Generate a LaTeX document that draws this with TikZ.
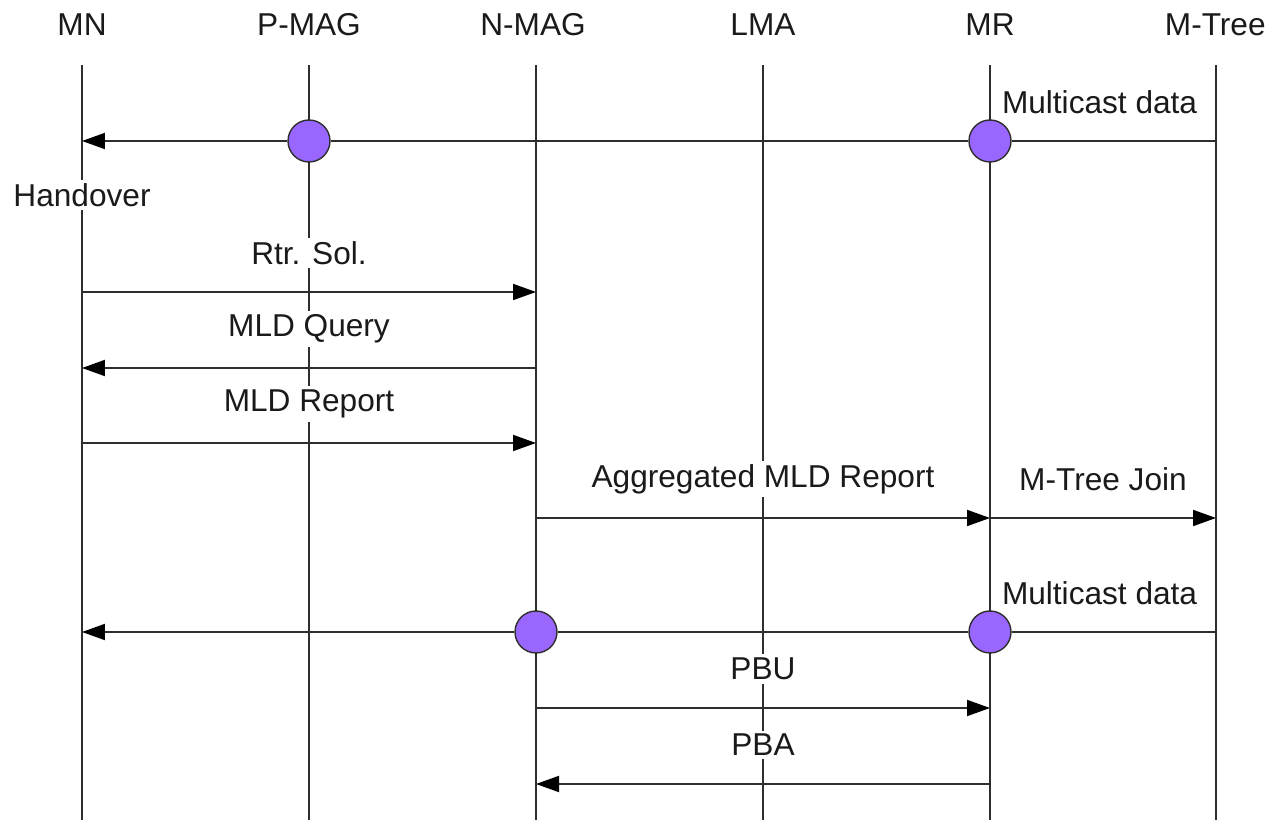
\documentclass[tikz,border=0pt]{standalone}
\usepackage{fontspec}
\setmainfont{Liberation Sans}
\usetikzlibrary{arrows.meta}
\usepackage{xcolor}
\definecolor{dotfill}{HTML}{9966FF}
\definecolor{linegray}{HTML}{2E2E2E}
\definecolor{textgray}{HTML}{1A1A1A}

\tikzset{
	life/.style={draw=linegray, line width=1.1pt},
	msg/.style={draw=linegray, line width=1.1pt, -{Triangle[length=0.46cm, width=0.32cm, black]}},
	dot/.style={draw=linegray, circle, fill=dotfill, minimum size=0.84cm, inner sep=0pt, line width=0.8pt},
	lbl/.style={fill=white, inner sep=2pt, yshift=0.78cm}
}

\begin{document}
\begin{tikzpicture}[x=0.02cm, y=-0.02cm, font=\fontsize{18}{21}\selectfont, text=textgray]
	\useasboundingbox (0,0) rectangle (1272,820);
	\node (mn) at (82,25) {MN};
	\node (pmag) at (309,25) {P-MAG};
	\node (nmag) at (533,25) {N-MAG};
	\node (lma) at (763,25) {LMA};
	\node (mr) at (990,25) {MR};
	\node (mtree) [anchor=east, inner sep=0pt] at (1266,25) {M-Tree};
	\foreach \n/\x in {mn/82, pmag/309, nmag/536, lma/763, mr/990, mtree/1216} {
		\coordinate (\n T) at (\x,65);
		\coordinate (\n B) at (\x,820);
		\draw[life] (\n T) -- (\n B);
	}
	\foreach \r/\y in {1/141, 2/292, 3/368, 4/443, 5/518, 6/632, 7/708, 8/784}
		\coordinate (r\r) at (0,\y);

	\node (ho) [fill=white, inner sep=2pt] at (82,195) {Handover};

	\node (d1) [dot] at (pmagT |- r1) {};
	\node (d2) [dot] at (mrT |- r1) {};
	\draw[msg] (mtreeT |- r1) -- node[lbl, pos=0.57] {Multicast data} (d2) -- (d1) -- (mnT |- r1);

	\draw[msg] (mnT |- r2) -- node[lbl] {Rtr. Sol.} (nmagT |- r2);
	\draw[msg] (nmagT |- r3) -- node[lbl] {MLD Query} (mnT |- r3);
	\draw[msg] (mnT |- r4) -- node[lbl] {MLD Report} (nmagT |- r4);
	\draw[msg] (nmagT |- r5) -- node[lbl] {Aggregated MLD Report} (mrT |- r5);
	\draw[msg] (mrT |- r5) -- node[lbl] {M-Tree Join} (mtreeT |- r5);

	\node (d3) [dot] at (nmagT |- r6) {};
	\node (d4) [dot] at (mrT |- r6) {};
	\draw[msg] (mtreeT |- r6) -- node[lbl, pos=0.57] {Multicast data} (d4) -- (d3) -- (mnT |- r6);

	\draw[msg] (nmagT |- r7) -- node[lbl] {PBU} (mrT |- r7);
	\draw[msg] (mrT |- r8) -- node[lbl] {PBA} (nmagT |- r8);
\end{tikzpicture}
\end{document}
